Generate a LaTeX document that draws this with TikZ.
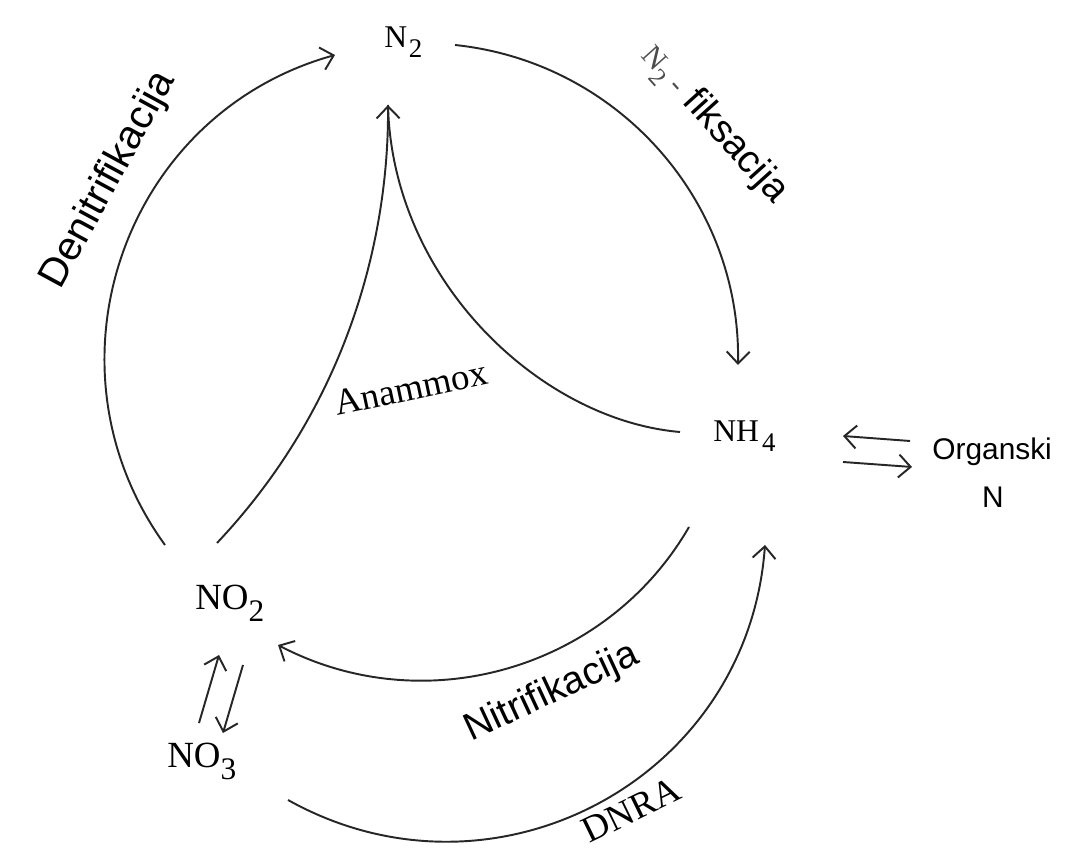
\documentclass[tikz,border=0pt]{standalone}
\usepackage{fontspec}
\setmainfont{Liberation Serif}
\newfontfamily\sansf{Liberation Sans}
\usetikzlibrary{arrows.meta}
\newcommand\chsub[1]{\raisebox{-0.3em}{\scalebox{0.85}{#1}}}
\tikzset{
  ln/.style={line width=1.1pt, draw=black!85},
  arr/.style={ln, -{Straight Barb[length=2.4mm,width=4.6mm,line width=1.1pt]}},
  chem/.style={inner sep=0pt, font=\fontsize{18}{20}\selectfont},
  chembig/.style={inner sep=0pt, font=\fontsize{21}{24}\selectfont},
  lbl/.style={inner sep=0pt, font=\fontsize{21}{24}\selectfont},
  slbl/.style={inner sep=0pt, font=\sansf\fontsize{22}{26}\selectfont},
  org/.style={inner sep=0pt, font=\sansf\fontsize{17}{20}\selectfont}
}
\begin{document}
\begin{tikzpicture}[x=0.02cm, y=-0.02cm]
\path[use as bounding box, fill=white] (0,0) rectangle (1080,864);

% species
\node[chem, anchor=base west] (n2) at (384,48) {N\kern0.05em\chsub{2}};
\node[chem, anchor=base west] (nh4) at (713,442) {NH\kern0.1em\chsub{4}};
\node[chembig, anchor=base west] (no2) at (195,610) {NO\chsub{2}};
\node[chembig, anchor=base west] (no3) at (167,768) {NO\chsub{3}};
\node[org, anchor=base west] (orgA) at (932,460) {Organski};
\node[org, anchor=base] (orgB) at (993,508) {N};

% labels
\node[slbl, font=\sansf\fontsize{23}{26}\selectfont, rotate=61.5] (den) at (109,180) {Denitrifikacija};
\node[slbl, rotate=-48] (fix) at (714,124) {{\fontsize{17}{20}\selectfont\rmfamily\color{black!70}N\chsub{2} -} fiksacija};
\node[lbl, anchor=base west, rotate=12] (ana) at (337,416) {Anammox};
\node[slbl, rotate=25] (nit) at (552,693) {Nitrifikacija};
\node[lbl, anchor=base west, rotate=26] (dnra) at (589,844) {DNRA};

% end points
\coordinate (fixS) at (455,45);
\coordinate (fixE) at (738,365);
\coordinate (denS) at (165,545);
\coordinate (denE) at (335,55);
\coordinate (nitS) at (689,527);
\coordinate (nitE) at (278,645);
\coordinate (dnS) at (288,800);
\coordinate (dnE) at (765,545);
\coordinate (anL) at (217,543);
\coordinate (anR) at (680,432);
\coordinate (anT) at (388,105);
\coordinate (e1s) at (910,441);
\coordinate (e1e) at (843,436);
\coordinate (e2s) at (843,462);
\coordinate (e2e) at (912,467);
\coordinate (us) at (199,723);
\coordinate (ue) at (219,655);
\coordinate (ds) at (243,665);
\coordinate (de) at (223,733);

% connectors
\draw[arr] (fixS) .. controls (618,62) and (741,201) .. (fixE);
\draw[arr] (denS) .. controls (36,367) and (123,114) .. (denE);
\draw[arr] (nitS) .. controls (607,669) and (425,722) .. (nitE);
\draw[arr] (dnS) .. controls (494,915) and (748,780) .. (dnE);
\draw[ln] (anR) .. controls (540,420) and (392,280) .. (anT);
\draw[arr] (anL) .. controls (352,400) and (389,230) .. (anT);
\draw[arr] (e1s) -- (e1e);
\draw[arr] (e2s) -- (e2e);
\draw[arr] (us) -- (ue);
\draw[arr] (ds) -- (de);
\end{tikzpicture}
\end{document}
